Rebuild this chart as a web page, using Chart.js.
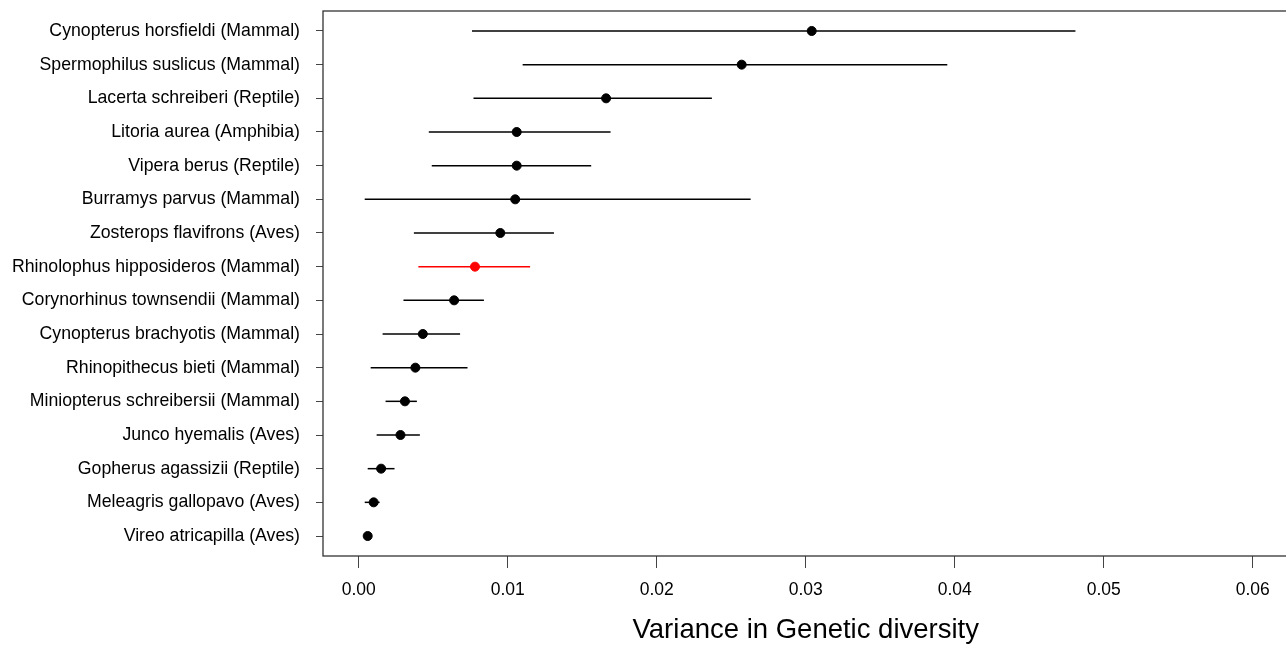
<!DOCTYPE html>
<html>
<head>
<meta charset="utf-8">
<script src="https://cdn.jsdelivr.net/npm/chart.js@4"></script>
<style>
  body { margin: 0; background: #fff; overflow: hidden; }
  #wrap { width: 1294px; height: 645px; }
</style>
</head>
<body>
<div id="wrap"><canvas id="grafico"></canvas></div>
<script>
const species = [
  'Cynopterus horsfieldi (Mammal)',
  'Spermophilus suslicus (Mammal)',
  'Lacerta schreiberi (Reptile)',
  'Litoria aurea (Amphibia)',
  'Vipera berus (Reptile)',
  'Burramys parvus (Mammal)',
  'Zosterops flavifrons (Aves)',
  'Rhinolophus hipposideros (Mammal)',
  'Corynorhinus townsendii (Mammal)',
  'Cynopterus brachyotis (Mammal)',
  'Rhinopithecus bieti (Mammal)',
  'Miniopterus schreibersii (Mammal)',
  'Junco hyemalis (Aves)',
  'Gopherus agassizii (Reptile)',
  'Meleagris gallopavo (Aves)',
  'Vireo atricapilla (Aves)'
];
const meanVar = [0.0304, 0.0257, 0.0166, 0.0106, 0.0106, 0.0105, 0.0095, 0.0078,
                 0.0064, 0.0043, 0.0038, 0.0031, 0.0028, 0.0015, 0.0010, 0.0006];
const lowerCI = [0.0076, 0.0110, 0.0077, 0.0047, 0.0049, 0.0004, 0.0037, 0.0040,
                 0.0030, 0.0016, 0.0008, 0.0018, 0.0012, 0.0006, 0.0004, 0.0004];
const upperCI = [0.0481, 0.0395, 0.0237, 0.0169, 0.0156, 0.0263, 0.0131, 0.0115,
                 0.0084, 0.0068, 0.0073, 0.0039, 0.0041, 0.0024, 0.0014, 0.0008];
const highlight = 'Rhinolophus hipposideros (Mammal)';
const xTicks = [0, 0.01, 0.02, 0.03, 0.04, 0.05, 0.06];

const cores = species.map(s => s === highlight ? '#ff0000' : '#000000');
const pontos = species.map((s, i) => ({ x: meanVar[i], y: i + 1 }));

// error bars + frame, drawn through the chart scales
const barras = {
  id: 'barras',
  beforeDatasetsDraw(chart) {
    const { ctx, scales: { x, y }, chartArea } = chart;
    ctx.save();
    species.forEach((s, i) => {
      const py = y.getPixelForValue(i + 1);
      ctx.beginPath();
      ctx.strokeStyle = cores[i];
      ctx.lineWidth = 1.5;
      ctx.moveTo(x.getPixelForValue(lowerCI[i]), py);
      ctx.lineTo(x.getPixelForValue(upperCI[i]), py);
      ctx.stroke();
    });
    ctx.strokeStyle = '#333';
    ctx.lineWidth = 1.3;
    ctx.strokeRect(chartArea.left, chartArea.top, chartArea.right - chartArea.left, chartArea.bottom - chartArea.top);
    ctx.restore();
  }
};

const ctx = document.getElementById('grafico').getContext('2d');
new Chart(ctx, {
  type: 'scatter',
  data: {
    datasets: [{
      data: pontos,
      pointBackgroundColor: cores,
      pointBorderColor: cores,
      pointRadius: 4.5,
      pointHoverRadius: 4.5
    }]
  },
  options: {
    responsive: true,
    maintainAspectRatio: false,
    animation: false,
    layout: { padding: { top: 11, right: 0, left: 0, bottom: 0 } },
    plugins: { legend: { display: false }, tooltip: { enabled: false } },
    scales: {
      x: {
        type: 'linear',
        min: -0.0024,
        max: 0.0624,
        afterBuildTicks: s => { s.ticks = xTicks.map(v => ({ value: v })); },
        afterFit: s => { s.height = 89; s.paddingLeft = 0; s.paddingRight = 0; },
        grid: { drawOnChartArea: false, tickLength: 12, color: '#444' },
        border: { display: false },
        ticks: {
          color: '#000',
          padding: 12,
          font: { family: 'Liberation Sans, Arial', size: 17.5 },
          callback: v => v.toFixed(2)
        },
        title: {
          display: true,
          text: 'Variance in Genetic diversity',
          color: '#000',
          padding: { top: 0, bottom: -2 },
          font: { family: 'Liberation Sans, Arial', size: 27.5 }
        }
      },
      y: {
        type: 'linear',
        reverse: true,
        min: 0.406,
        max: 16.594,
        afterBuildTicks: s => { s.ticks = species.map((n, i) => ({ value: i + 1 })); },
        afterFit: s => { s.width = 323; s.paddingTop = 0; s.paddingBottom = 0; },
        grid: { drawOnChartArea: false, tickLength: 7, color: '#444' },
        border: { display: false },
        ticks: {
          color: '#000',
          padding: 16,
          autoSkip: false,
          font: { family: 'Liberation Sans, Arial', size: 17.7 },
          callback: v => species[v - 1]
        }
      }
    }
  },
  plugins: [barras]
});
</script>
</body>
</html>
